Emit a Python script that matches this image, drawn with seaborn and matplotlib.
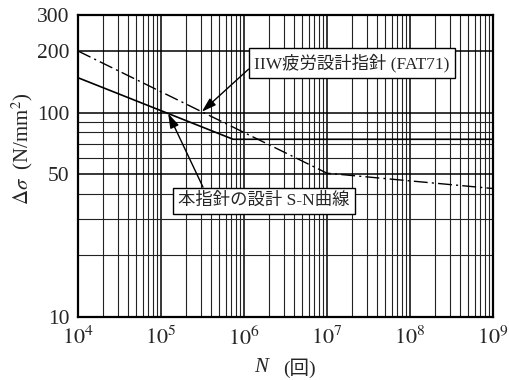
import numpy as np
import matplotlib
matplotlib.use("Agg")
import matplotlib.pyplot as plt
import matplotlib.ticker as mticker
import seaborn as sns

# curve data (N cycles, stress range N/mm2)
iiw_N = [1e4, 1e7, 1e9]
iiw_S = [200, 50.5, 42.5]
design_N = [1e4, 7.4e5, 1e9]
design_S = [148, 74, 74]

iiw_label = "IIW疲労設計指針 (FAT71)"
design_label = "本指針の設計 S-N曲線"

x_ticks = [1e4, 1e5, 1e6, 1e7, 1e8, 1e9]
x_ticklabels = [r"$10^{4}$", r"$10^{5}$", r"$10^{6}$", r"$10^{7}$", r"$10^{8}$", r"$10^{9}$"]
y_ticks = [10, 50, 100, 200, 300]
y_minor = [20, 30, 40, 60, 70, 80, 90]

# where the arrows touch the curves
iiw_arrow_N = 3.1e5
design_arrow_N = 1.22e5

sns.set_style("white")
plt.rcParams["font.family"] = ["Liberation Serif", "Noto Sans CJK JP"]
plt.rcParams["mathtext.fontset"] = "stix"

fig = plt.figure(figsize=(5.1, 3.8), dpi=100)
ax = fig.add_axes([78 / 510, 63 / 380, 415 / 510, 302 / 380])

sns.lineplot(x=iiw_N, y=iiw_S, ax=ax, color="black", lw=1.0,
             linestyle=(0, (10, 3, 1.5, 3)))
sns.lineplot(x=design_N, y=design_S, ax=ax, color="black", lw=1.2)

ax.set_xscale("log")
ax.set_yscale("log")
ax.set_xlim(1e4, 1e9)
ax.set_ylim(10, 300)

ax.set_xticks(x_ticks)
ax.set_xticklabels(x_ticklabels, fontsize=16)
ax.xaxis.set_minor_locator(mticker.LogLocator(base=10, subs=np.arange(2, 10)))
ax.xaxis.set_minor_formatter(mticker.NullFormatter())

ax.set_yticks(y_ticks)
ax.set_yticklabels([str(v) for v in y_ticks], fontsize=15.5)
ax.set_yticks(y_minor, minor=True)
ax.yaxis.set_minor_formatter(mticker.NullFormatter())

ax.tick_params(which="both", length=0)
ax.tick_params(axis="x", pad=7)
ax.tick_params(axis="y", pad=6)

ax.grid(which="major", color="black", lw=1.1)
ax.grid(which="minor", color="#222222", lw=0.8)
ax.set_axisbelow(True)
for s in ax.spines.values():
    s.set_color("black")
    s.set_linewidth(1.6)

# arrow targets taken from the curves themselves
def on_curve(n, xs, ys):
    return 10 ** np.interp(np.log10(n), np.log10(xs), np.log10(ys))

box = dict(boxstyle="square,pad=0.3", fc="white", ec="black", lw=1.0)
arr = dict(arrowstyle="-|>,head_length=0.7,head_width=0.22", color="black",
           lw=1.0, shrinkA=0, shrinkB=0)

ax.annotate(iiw_label, xy=(iiw_arrow_N, on_curve(iiw_arrow_N, iiw_N, iiw_S)),
            xytext=(352, 317), textcoords="figure pixels", ha="center", va="center",
            fontsize=12.5, bbox=box, arrowprops=dict(arr, relpos=(0, 0.45)))
ax.annotate(design_label, xy=(design_arrow_N, on_curve(design_arrow_N, design_N, design_S)),
            xytext=(264, 179), textcoords="figure pixels", ha="center", va="center",
            fontsize=12.5, bbox=box, arrowprops=dict(arr, relpos=(0.16, 1)))

ax.set_xlabel("")
ax.set_ylabel("")
fig.text(22 / 510, 1 - 149 / 380, r"$\Delta\sigma$  (N/mm$^2$)", rotation=90,
         ha="center", va="center", fontsize=15)
fig.text(261 / 510, 1 - 368 / 380, "N", style="italic", ha="center", va="center",
         fontsize=15)
fig.text(299 / 510, 1 - 368 / 380, "(回)", ha="center", va="center", fontsize=14)

fig.savefig("out.png", dpi=100)
